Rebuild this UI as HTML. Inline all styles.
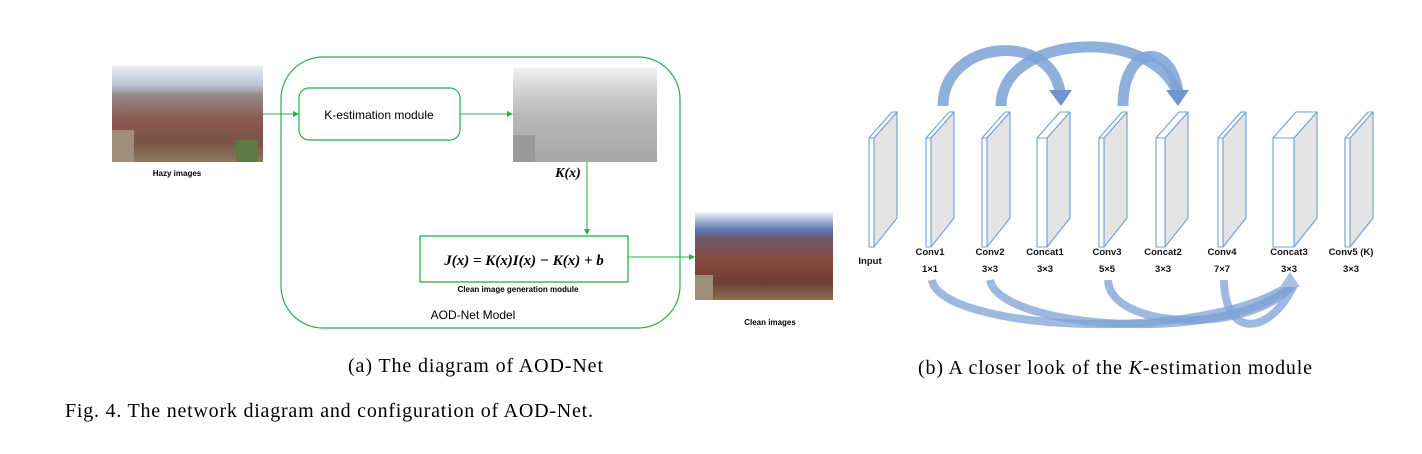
<!DOCTYPE html>
<html><head><meta charset="utf-8"><style>
body{margin:0;background:#fff;}
svg{display:block;}
.s{font-family:"Liberation Sans",sans-serif;}
.t{font-family:"Liberation Serif",serif;}
</style></head><body>
<svg width="1422" height="454" viewBox="0 0 1422 454" xmlns="http://www.w3.org/2000/svg">
<defs>
<linearGradient id="hz" x1="0" y1="0" x2="0" y2="1">
<stop offset="0" stop-color="#e9eef6"/><stop offset="0.2" stop-color="#b8c4d8"/><stop offset="0.3" stop-color="#9a8a8a"/><stop offset="0.55" stop-color="#8a5a50"/><stop offset="0.8" stop-color="#7a5444"/><stop offset="1" stop-color="#8e7a60"/>
</linearGradient>
<linearGradient id="cl" x1="0" y1="0" x2="0" y2="1">
<stop offset="0" stop-color="#f2f5fa"/><stop offset="0.2" stop-color="#5a78b0"/><stop offset="0.3" stop-color="#6b5a6a"/><stop offset="0.55" stop-color="#8a4a3e"/><stop offset="0.8" stop-color="#6e3e34"/><stop offset="1" stop-color="#8a7050"/>
</linearGradient>
<linearGradient id="gr" x1="0" y1="0" x2="0" y2="1">
<stop offset="0" stop-color="#f2f2f2"/><stop offset="0.2" stop-color="#d6d6d6"/><stop offset="0.5" stop-color="#b8b8b8"/><stop offset="1" stop-color="#a8a8a8"/>
</linearGradient>
<marker id="ga" markerWidth="6" markerHeight="6" refX="5" refY="3" orient="auto"><path d="M0,0 L6,3 L0,6z" fill="#22b14c"/></marker>
</defs>

<rect x="112" y="66" width="151" height="96" fill="url(#hz)"/>
<rect x="112" y="130" width="22" height="32" fill="#9c8e78"/>
<rect x="236" y="140" width="22" height="22" fill="#5f7a45"/>
<text x="177" y="176" class="s" font-size="8" font-weight="bold" text-anchor="middle">Hazy images</text>

<rect x="281" y="57" width="399" height="271" rx="42" fill="none" stroke="#22b14c" stroke-width="1.2"/>
<rect x="299" y="88" width="161" height="52" rx="10" fill="none" stroke="#22b14c" stroke-width="1.2"/>
<text x="379" y="119" class="s" font-size="12" text-anchor="middle">K-estimation module</text>
<line x1="263" y1="114" x2="298" y2="114" stroke="#22b14c" stroke-width="1" marker-end="url(#ga)"/>
<line x1="460" y1="114" x2="512" y2="114" stroke="#22b14c" stroke-width="1" marker-end="url(#ga)"/>

<rect x="513" y="68" width="144" height="94" fill="url(#gr)"/>
<rect x="513" y="135" width="22" height="27" fill="#9a9a9a"/>
<text x="568" y="177" class="t" font-size="14" font-weight="bold" font-style="italic" text-anchor="middle">K(x)</text>
<line x1="587" y1="162" x2="587" y2="234" stroke="#22b14c" stroke-width="1" marker-end="url(#ga)"/>

<rect x="420" y="236" width="208" height="46" fill="none" stroke="#22b14c" stroke-width="1.3"/>
<text x="524" y="265" class="t" font-size="15" font-weight="bold" font-style="italic" text-anchor="middle">J(x) = K(x)I(x) − K(x) + b</text>
<text x="518" y="292" class="s" font-size="8" font-weight="bold" text-anchor="middle">Clean image generation module</text>
<line x1="628" y1="257" x2="694" y2="257" stroke="#22b14c" stroke-width="1" marker-end="url(#ga)"/>
<text x="473" y="319" class="s" font-size="12" text-anchor="middle">AOD-Net  Model</text>

<rect x="695" y="212" width="138" height="88" fill="url(#cl)"/>
<rect x="695" y="275" width="18" height="25" fill="#9c8e78"/>
<text x="770" y="325" class="s" font-size="8" font-weight="bold" text-anchor="middle">Clean images</text>

<text x="348" y="372" class="t" font-size="20" textLength="255" lengthAdjust="spacing">(a) The diagram of AOD-Net</text>
<text x="65" y="417" class="t" font-size="20" textLength="528" lengthAdjust="spacing">Fig. 4.  The network diagram and configuration of AOD-Net.</text>

<g stroke="#6fa0d8" stroke-width="1.1" stroke-linejoin="round">
<polygon points="874,138 897,112 897,218 874,247" fill="#e4e4e4"/><polygon points="869,138 892,112 897,112 874,138" fill="#fff"/><rect x="869" y="138" width="5" height="109" fill="#fff"/>
<polygon points="931,138 954,112 954,218 931,247" fill="#e4e4e4"/><polygon points="926,138 949,112 954,112 931,138" fill="#fff"/><rect x="926" y="138" width="5" height="109" fill="#fff"/>
<polygon points="987,138 1010,112 1010,218 987,247" fill="#e4e4e4"/><polygon points="982,138 1005,112 1010,112 987,138" fill="#fff"/><rect x="982" y="138" width="5" height="109" fill="#fff"/>
<polygon points="1047,138 1070,112 1070,218 1047,247" fill="#e4e4e4"/><polygon points="1037,138 1060,112 1070,112 1047,138" fill="#fff"/><rect x="1037" y="138" width="10" height="109" fill="#fff"/>
<polygon points="1104,138 1127,112 1127,218 1104,247" fill="#e4e4e4"/><polygon points="1099,138 1122,112 1127,112 1104,138" fill="#fff"/><rect x="1099" y="138" width="5" height="109" fill="#fff"/>
<polygon points="1165,138 1188,112 1188,218 1165,247" fill="#e4e4e4"/><polygon points="1156,138 1179,112 1188,112 1165,138" fill="#fff"/><rect x="1156" y="138" width="9" height="109" fill="#fff"/>
<polygon points="1223,138 1246,112 1246,218 1223,247" fill="#e4e4e4"/><polygon points="1218,138 1241,112 1246,112 1223,138" fill="#fff"/><rect x="1218" y="138" width="5" height="109" fill="#fff"/>
<polygon points="1294,138 1317,112 1317,218 1294,247" fill="#e4e4e4"/><polygon points="1273,138 1296,112 1317,112 1294,138" fill="#fff"/><rect x="1273" y="138" width="21" height="109" fill="#fff"/>
<polygon points="1350,138 1373,112 1373,218 1350,247" fill="#e4e4e4"/><polygon points="1345,138 1368,112 1373,112 1350,138" fill="#fff"/><rect x="1345" y="138" width="5" height="109" fill="#fff"/>
</g>

<g fill="none" stroke="#7da2d6" stroke-opacity="0.85" stroke-width="11">
<path d="M943,106 C943,40 1050,30 1060,92"/>
<path d="M1001,106 C1001,35 1150,25 1177,92"/>
<path d="M1123,106 C1123,45 1170,40 1178,92"/>
</g>
<g fill="#6d95d0">
<polygon points="1049,90 1072,90 1061,106"/>
<polygon points="1166,90 1189,90 1178,106"/>
</g>

<g fill="none" stroke="#7da2d6" stroke-opacity="0.75" stroke-width="8">
<path d="M932,280 C940,330 1200,345 1290,285"/>
<path d="M990,280 C1000,330 1230,345 1292,285"/>
<path d="M1108,280 C1110,330 1250,335 1293,285"/>
<path d="M1224,280 C1225,340 1270,335 1294,285"/>
</g>
<polygon points="1280,287 1300,287 1290,272" fill="#a9c0e6"/>

<g class="s" font-size="9.5" font-weight="bold" text-anchor="middle" fill="#111">
<text x="870" y="264">Input</text>
<text x="930" y="255">Conv1</text><text x="930" y="272">1×1</text>
<text x="990" y="255">Conv2</text><text x="990" y="272">3×3</text>
<text x="1045" y="255">Concat1</text><text x="1045" y="272">3×3</text>
<text x="1107" y="255">Conv3</text><text x="1107" y="272">5×5</text>
<text x="1163" y="255">Concat2</text><text x="1163" y="272">3×3</text>
<text x="1222" y="255">Conv4</text><text x="1222" y="272">7×7</text>
<text x="1289" y="255">Concat3</text><text x="1289" y="272">3×3</text>
<text x="1351" y="255">Conv5 (K)</text><text x="1351" y="272">3×3</text>
</g>

<text x="918" y="374" class="t" font-size="20" textLength="394" lengthAdjust="spacing">(b) A closer look of the <tspan font-style="italic">K</tspan>-estimation module</text>
</svg>
</body></html>
